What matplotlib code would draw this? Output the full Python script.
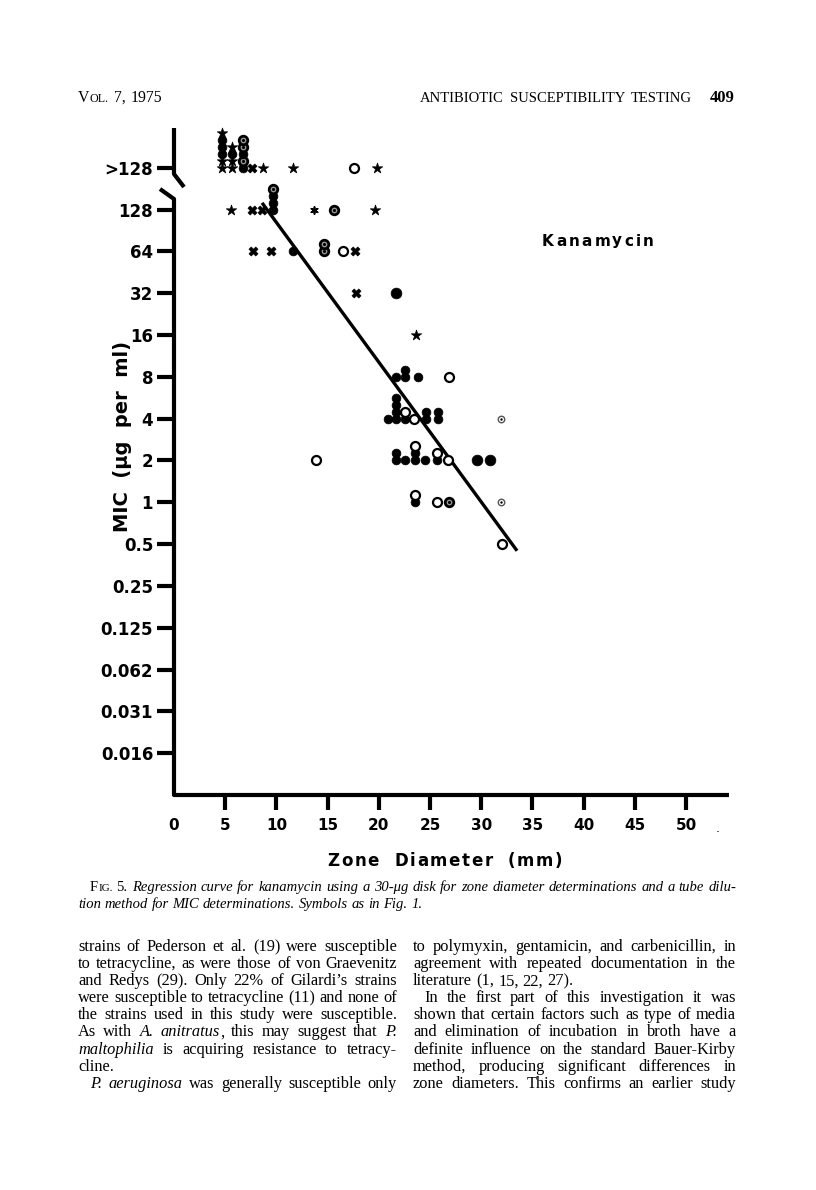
import matplotlib
matplotlib.use("Agg")
import matplotlib.pyplot as plt
from matplotlib.transforms import Affine2D, ScaledTranslation
from matplotlib.lines import Line2D
from collections import defaultdict

# ---------------- data ----------------
MIC_LABELS = ["0.016", "0.031", "0.062", "0.125", "0.25", "0.5", "1", "2",
              "4", "8", "16", "32", "64", "128", ">128"]
MIC_LEVELS = [-6, -5, -4, -3, -2, -1, 0, 1, 2, 3, 4, 5, 6, 7, 8]   # log2(MIC); ">128" one step above 128
ZONE_TICKS = [0, 5, 10, 15, 20, 25, 30, 35, 40, 45, 50]

# individual strains: zone diameter (mm), MIC, symbol
# (points sharing the same zone/MIC are stacked upward in the order listed)
P_ZONE = [4.7, 4.7, 4.7, 4.7, 4.7, 4.7,
          5.7, 5.7, 5.7, 5.7,
          6.7, 6.7, 6.7, 6.7, 6.7,
          7.6, 8.65, 11.6, 17.6, 19.8,
          5.6, 7.6, 8.55, 9.65, 9.65, 9.65, 9.65, 13.7, 15.6, 19.6,
          7.7, 9.5, 11.6, 14.6, 14.6, 16.5, 17.7,
          17.8, 21.7,
          23.6,
          21.7, 22.6, 22.6, 23.8, 26.9,
          20.9, 21.7, 21.7, 21.7, 21.7, 22.6, 22.6, 23.4, 24.6, 24.6, 25.8, 25.8, 31.9,
          13.9, 21.7, 21.7, 22.6, 23.5, 23.5, 23.5, 24.5, 25.7, 25.7, 26.8, 29.6, 30.9,
          23.5, 23.5, 25.7, 26.9, 31.9,
          32.0]
P_MIC = [">128"] * 6 + [">128"] * 4 + [">128"] * 5 + [">128"] * 5 + \
        ["128"] * 10 + \
        ["64"] * 7 + \
        ["32"] * 2 + \
        ["16"] + \
        ["8"] * 5 + \
        ["4"] * 13 + \
        ["2"] * 13 + \
        ["1"] * 5 + \
        ["0.5"]
P_SYM = ["star", "star", "filled", "filled", "filled", "star",
         "star", "star", "filled", "star",
         "filled", "ring", "filled", "ring", "ring",
         "cross", "star", "star", "open", "star",
         "star", "cross", "cross", "filled", "filled", "filled", "ring", "asterisk", "ring", "star",
         "cross", "cross", "filled", "ring", "ring", "open", "cross",
         "cross", "big",
         "star",
         "filled", "filled", "filled", "filled", "open",
         "filled", "filled", "filled", "filled", "filled", "filled", "open", "open",
         "filled", "filled", "filled", "filled", "dotted",
         "open", "filled", "filled", "filled", "filled", "filled", "open", "filled",
         "filled", "open", "open", "big", "big",
         "filled", "open", "open", "ring", "dotted",
         "open"]

# regression curve (zone diameter, log2 MIC) end points
REG_ZONE = [8.6, 33.5]
REG_LOG2MIC = [7.16, -1.16]

# ---------------- figure ----------------
W, H = 816, 1190
fig = plt.figure(figsize=(W / 100, H / 100), dpi=100, facecolor="white")
PX = Affine2D().scale(1 / W, -1 / H).translate(0, 1) + fig.transFigure
renderer = fig.canvas.get_renderer()
SANS = "DejaVu Sans"
SERIF = "Liberation Serif"

ax = fig.add_axes([174 / W, 1 - 795 / H, (728 - 174) / W, (795 - 128) / H])
ax.set_facecolor("none")
ax.set_xlim(0, (728 - 174) / 10.24)
ax.set_ylim(-7.0, 8.95)
for sp in ax.spines.values():
    sp.set_visible(False)

ax.set_xticks(ZONE_TICKS, [str(v) for v in ZONE_TICKS])
ax.set_yticks(MIC_LEVELS, MIC_LABELS)
ax.tick_params(axis="x", direction="out", length=10.5, width=3, pad=6,
               labelsize=11, colors="black")
ax.tick_params(axis="y", direction="out", length=12.5, width=3, pad=2.5,
               labelsize=12, colors="black")
for lab in ax.get_xticklabels() + ax.get_yticklabels():
    lab.set_fontweight("bold")
    lab.set_family(SANS)
ax.xaxis.get_major_ticks()[0].tick1line.set_visible(False)

# axis lines with break
fig.add_artist(Line2D([174, 174, 184], [128, 174, 187], transform=PX,
                      color="black", lw=3, solid_joinstyle="round",
                      solid_capstyle="butt"))
fig.add_artist(Line2D([160, 174, 174, 729], [189, 199, 795, 795], transform=PX,
                      color="black", lw=3, solid_joinstyle="round",
                      solid_capstyle="butt"))

# regression line
ax.plot(REG_ZONE, REG_LOG2MIC, color="black", lw=2.4, solid_capstyle="butt",
        zorder=2)

# symbols
STYLE = {
    "filled": dict(marker="o", s=40, facecolor="black", edgecolor="black", linewidths=0.5),
    "big": dict(marker="o", s=60, facecolor="black", edgecolor="black", linewidths=0.5),
    "open": dict(marker="o", s=42, facecolor="white", edgecolor="black", linewidths=1.6),
    "star": dict(marker="*", s=62, facecolor="black", edgecolor="black", linewidths=0.5),
    "cross": dict(marker="X", s=42, facecolor="black", edgecolor="black", linewidths=0.5),
    "ring": dict(marker="o", s=38, facecolor="#9a9a9a", edgecolor="black", linewidths=2.0),
    "dotted": dict(marker="o", s=22, facecolor="white", edgecolor="#555555", linewidths=1.0),
    "asterisk": dict(marker=(6, 2, 0), s=26, color="black", linewidths=1.2),
}
STACK_PX = 7.0
counts = defaultdict(int)
for z, m, sym in zip(P_ZONE, P_MIC, P_SYM):
    lvl = counts[(z, m)]
    counts[(z, m)] += 1
    y = MIC_LEVELS[MIC_LABELS.index(m)]
    tr = ax.transData + ScaledTranslation(0, lvl * STACK_PX / 100, fig.dpi_scale_trans)
    ax.scatter([z], [y], transform=tr, zorder=3, clip_on=False, **STYLE[sym])
    if sym in ("ring", "dotted"):
        ax.scatter([z], [y], transform=tr, zorder=4, clip_on=False, marker="o",
                   s=5 if sym == "ring" else 3, color="black", linewidths=0)


# ---------------- text helpers ----------------
def text_width(t):
    return t.get_window_extent(renderer).width


def tracked(xc, y, s, size, track, weight="bold", family=SANS):
    objs = []
    for ch in s:
        if ch == " ":
            objs.append((None, size * 100 / 72 * 0.32))
            continue
        t = fig.text(0, y, ch, transform=PX, fontsize=size, fontweight=weight,
                     family=family, va="center", ha="left")
        objs.append((t, text_width(t)))
    total = sum(w for _, w in objs) + track * (len(objs) - 1)
    x = xc - total / 2
    for t, w in objs:
        if t is not None:
            t.set_x(x)
        x += w + track


def parse_words(line, italic0=False):
    words = []
    italic, small = italic0, False
    for raw in line.split(" "):
        segs, cur = [], ""
        for ch in raw:
            if ch in "*{}":
                if cur:
                    segs.append((cur, italic, small))
                    cur = ""
                if ch == "*":
                    italic = not italic
                elif ch == "{":
                    small = True
                else:
                    small = False
            else:
                cur += ch
        if cur:
            segs.append((cur, italic, small))
        if segs:
            words.append(segs)
    return words


def make_words(line, size, italic0=False, y=0):
    objs = []
    for w in parse_words(line, italic0):
        wl = []
        for s, it, sm in w:
            t = fig.text(0, y, s, transform=PX, fontsize=size * (0.76 if sm else 1.0),
                         fontstyle="italic" if it else "normal", family=SERIF,
                         va="baseline", ha="left")
            wl.append((t, text_width(t)))
        objs.append(wl)
    return objs


def natural(line, size, italic0=False):
    objs = make_words(line, size, italic0)
    tot = sum(wd for wl in objs for _, wd in wl)
    for wl in objs:
        for t, _ in wl:
            t.remove()
    return tot + (len(objs) - 1) * size * 100 / 72 * 0.25


def draw_line(line, x0, x1, y, size, justify=True, italic0=False):
    objs = make_words(line, size, italic0, y)
    total = sum(wd for wl in objs for _, wd in wl)
    space = size * 100 / 72 * 0.25
    if justify and len(objs) > 1:
        space = (x1 - x0 - total) / (len(objs) - 1)
    x = x0
    for wl in objs:
        for t, wd in wl:
            t.set_x(x)
            x += wd
        x += space


def fit_size(line, width, italic0=False):
    return 10.0 * width / natural(line, 10.0, italic0)


# ---------------- labels ----------------
tracked(598, 241, "Kanamycin", 11, 2.2)
tracked(445, 861, "Zone  Diameter  (mm)", 12, 1.6)
fig.text(122, 436, "MIC  (μg  per  ml)", transform=PX, rotation=90, ha="center",
         va="center", fontsize=14, fontweight="bold", family=SANS)
fig.text(718, 828, ".", transform=PX, fontsize=9, ha="center", va="center",
         family=SANS)

# running head
HEAD_L = "V{OL.} 7, 1975"
HEAD_R = "ANTIBIOTIC SUSCEPTIBILITY TESTING"
draw_line(HEAD_L, 78, 162, 102, fit_size(HEAD_L, 84) * 0.97, justify=True)
draw_line(HEAD_R, 420, 692, 102, fit_size(HEAD_R, 272) * 0.98, justify=True)
fig.text(735, 102, "409", transform=PX, fontsize=12, fontweight="bold",
         family=SERIF, ha="right", va="baseline")

# caption
CAP1 = ("F{IG.} 5. *Regression curve for kanamycin using a 30-μg disk for zone "
        "diameter determinations and a tube dilu-")
CAP2 = "tion method for MIC determinations. Symbols as in Fig. 1."
cap_size = fit_size(CAP1, 646) * 0.985
draw_line(CAP1, 90, 736, 891, cap_size, justify=True)
draw_line(CAP2, 78, 736, 908, cap_size, justify=False, italic0=True)

# body text
LEFT = [
    ("strains of Pederson et al. (19) were susceptible", 0, True),
    ("to tetracycline, as were those of von Graevenitz", 0, True),
    ("and Redys (29). Only 22% of Gilardi’s strains", 0, True),
    ("were susceptible to tetracycline (11) and none of", 0, True),
    ("the strains used in this study were susceptible.", 0, True),
    ("As with *A. anitratus*, this may suggest that *P.*", 0, True),
    ("*maltophilia* is acquiring resistance to tetracy-", 0, True),
    ("cline.", 0, False),
    ("*P. aeruginosa* was generally susceptible only", 12, True),
]
RIGHT = [
    ("to polymyxin, gentamicin, and carbenicillin, in", 0, True),
    ("agreement with repeated documentation in the", 0, True),
    ("literature (1, 15, 22, 27).", 0, False),
    ("In the first part of this investigation it was", 11, True),
    ("shown that certain factors such as type of media", 0, True),
    ("and elimination of incubation in broth have a", 0, True),
    ("definite influence on the standard Bauer-Kirby", 0, True),
    ("method, producing significant differences in", 0, True),
    ("zone diameters. This confirms an earlier study", 0, True),
]
body_size = min(fit_size(ln, 319 - ind) for ln, ind, j in LEFT + RIGHT if j) * 1.0
for i, (ln, ind, just) in enumerate(LEFT):
    draw_line(ln, 78 + ind, 397, 951 + 17.1 * i, body_size, justify=just)
for i, (ln, ind, just) in enumerate(RIGHT):
    draw_line(ln, 413 + ind, 736, 951 + 17.1 * i, body_size, justify=just)

fig.savefig("out.png", dpi=100, facecolor="white")
